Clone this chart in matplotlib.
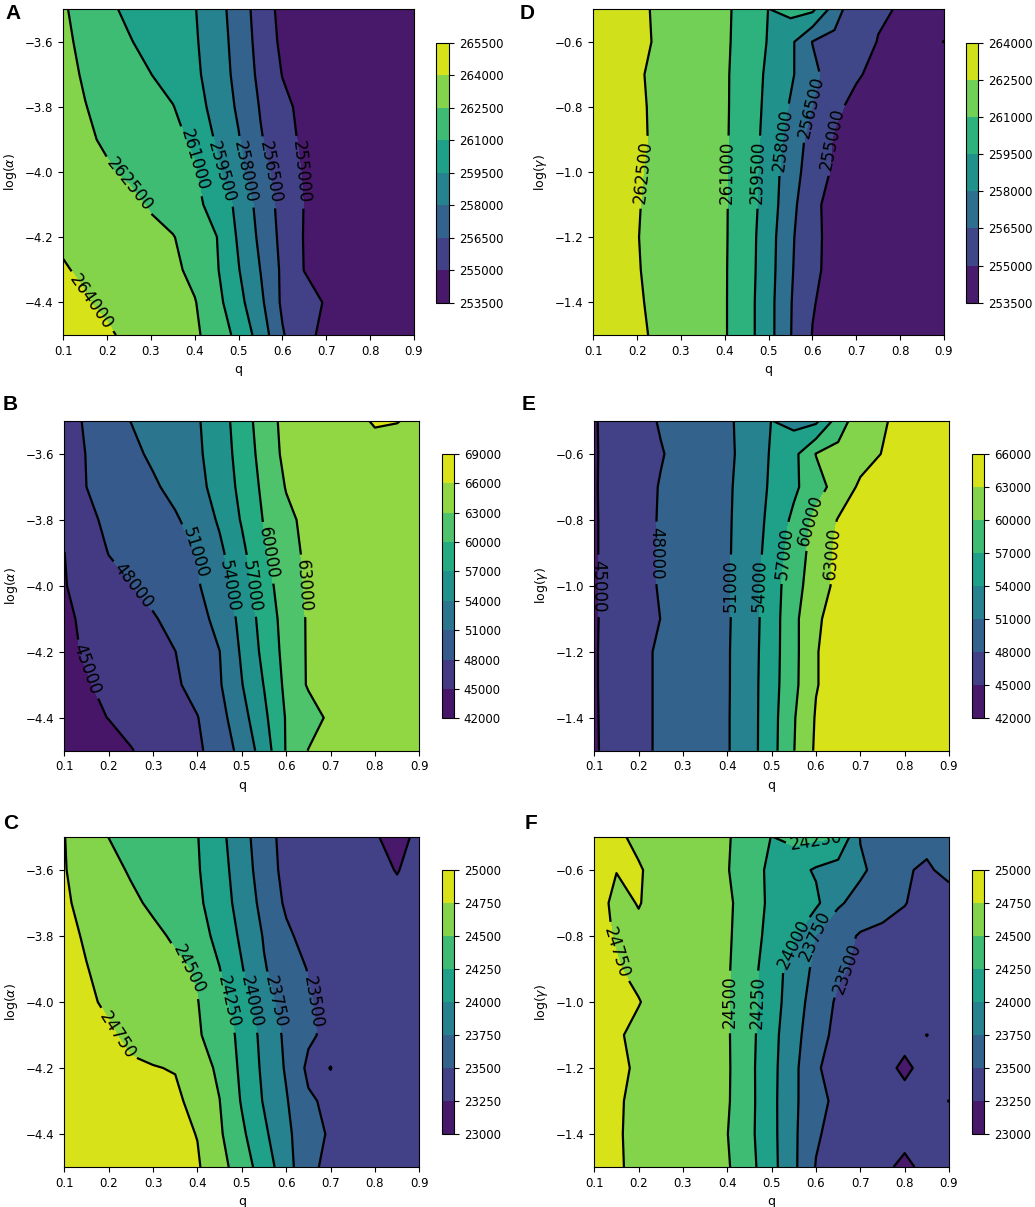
import numpy as np
import matplotlib
matplotlib.use('Agg')
import matplotlib.pyplot as plt

# grid of the parameter sweep
q = [0.10, 0.15, 0.20, 0.25, 0.30, 0.35, 0.40, 0.45, 0.50,
     0.55, 0.60, 0.65, 0.70, 0.75, 0.80, 0.85, 0.90]
log_alpha = [-3.5, -3.6, -3.7, -3.8, -3.9, -4.0, -4.1, -4.2, -4.3, -4.4, -4.5]
log_gamma = [-0.5, -0.6, -0.7, -0.8, -0.9, -1.0, -1.1, -1.2, -1.3, -1.4, -1.5]

# rows go from the top of each panel to the bottom
A_vals = [
    [262650, 261960, 261255, 260745, 260355, 259965, 259560, 258570, 257280, 255840, 254550, 254325, 254175, 254100, 254025, 253950, 253875],
    [262755, 262200, 261645, 261090, 260595, 260130, 259650, 258705, 257400, 255975, 254700, 254400, 254250, 254175, 254100, 254025, 253950],
    [262830, 262380, 261915, 261465, 261015, 260400, 259770, 258810, 257535, 256140, 254955, 254475, 254325, 254250, 254175, 254100, 254025],
    [262905, 262530, 262170, 261810, 261435, 261060, 260100, 258975, 257775, 256395, 255345, 254625, 254400, 254325, 254250, 254175, 254100],
    [263025, 262680, 262335, 261990, 261645, 261300, 260790, 259305, 258090, 256620, 255585, 254700, 254475, 254400, 254325, 254250, 254175],
    [263400, 263010, 262635, 262260, 261885, 261495, 261120, 259755, 258375, 256995, 255840, 254850, 254550, 254475, 254400, 254325, 254250],
    [263775, 263625, 263325, 262875, 262335, 261825, 261315, 260505, 259110, 257445, 255990, 254955, 254625, 254550, 254475, 254400, 254325],
    [263850, 263700, 263475, 263250, 262950, 262575, 261795, 261015, 259305, 257685, 256095, 254925, 254700, 254625, 254550, 254475, 254400],
    [264075, 263850, 263625, 263400, 263100, 262800, 262125, 261135, 259560, 257970, 256230, 254955, 254700, 254625, 254550, 254475, 254400],
    [264375, 264075, 263775, 263475, 263175, 262875, 262575, 261435, 259950, 258315, 256230, 255675, 254850, 254700, 254625, 254550, 254475],
    [264750, 264450, 264150, 263775, 263400, 263100, 262725, 261855, 260565, 258870, 256635, 255240, 254775, 254700, 254625, 254550, 254475],
]
B_vals = [
    [46920, 48300, 49680, 51030, 51930, 52830, 53730, 55680, 58470, 61530, 63900, 64350, 64650, 65100, 66300, 66090, 65400],
    [46920, 48060, 49200, 50370, 51450, 52500, 53550, 55440, 58170, 61140, 63750, 64200, 64500, 64650, 64800, 64800, 64650],
    [47130, 48000, 48870, 49740, 50610, 51780, 53190, 55110, 57780, 60660, 63150, 63900, 64200, 64500, 64650, 64650, 64500],
    [46830, 47580, 48360, 49140, 49890, 50670, 52170, 54390, 57240, 60180, 62340, 63750, 64050, 64350, 64500, 64500, 64350],
    [44970, 46590, 48060, 48810, 49560, 50280, 51090, 53370, 56310, 59610, 61860, 63600, 63900, 64200, 64350, 64350, 64200],
    [44790, 46500, 47220, 47910, 48840, 49770, 50730, 52800, 55650, 58860, 61470, 63450, 63750, 64050, 64200, 64200, 64050],
    [44550, 45450, 46230, 46980, 47760, 48840, 50100, 51810, 54810, 58200, 61140, 63300, 63600, 63900, 64050, 64050, 63900],
    [44520, 45210, 45900, 46590, 47280, 47970, 49440, 50970, 54390, 57750, 60960, 63300, 63450, 63750, 63900, 63900, 63750],
    [44130, 44820, 45540, 46230, 46920, 47640, 48900, 50730, 53880, 57090, 60660, 63300, 63450, 63600, 63750, 63750, 63600],
    [43650, 44340, 45060, 45780, 46500, 47190, 47910, 49980, 52920, 56340, 60210, 61650, 63600, 63750, 63900, 63900, 63750],
    [42750, 43350, 43950, 44880, 45780, 46680, 47550, 49260, 51930, 55350, 60180, 63090, 63450, 63600, 63750, 63750, 63600],
]
C_vals = [
    [24755, 24628, 24498, 24438, 24378, 24318, 24258, 24068, 23843, 23608, 23413, 23375, 23350, 23313, 23275, 23150, 23323],
    [24760, 24663, 24565, 24478, 24410, 24340, 24270, 24098, 23870, 23633, 23425, 23388, 23363, 23350, 23325, 23238, 23350],
    [24775, 24698, 24620, 24543, 24463, 24378, 24293, 24130, 23900, 23678, 23463, 23400, 23375, 23363, 23350, 23325, 23363],
    [24793, 24733, 24670, 24608, 24548, 24470, 24343, 24185, 23955, 23733, 23545, 23413, 23388, 23375, 23363, 23350, 23363],
    [24808, 24755, 24703, 24650, 24598, 24545, 24473, 24255, 24015, 23768, 23628, 23488, 23413, 23388, 23375, 23363, 23363],
    [24830, 24778, 24723, 24670, 24615, 24560, 24508, 24335, 24108, 23840, 23658, 23520, 23425, 23400, 23388, 23375, 23375],
    [24895, 24833, 24773, 24710, 24650, 24588, 24525, 24393, 24185, 23923, 23703, 23538, 23438, 23413, 23400, 23388, 23388],
    [24925, 24875, 24825, 24775, 24760, 24738, 24590, 24463, 24198, 23950, 23725, 23450, 23503, 23425, 23413, 23400, 23400],
    [24950, 24913, 24875, 24850, 24825, 24800, 24663, 24503, 24230, 23980, 23770, 23533, 23450, 23425, 23413, 23400, 23400],
    [24963, 24938, 24900, 24875, 24850, 24813, 24743, 24533, 24295, 24050, 23795, 23620, 23463, 23438, 23425, 23413, 23400],
    [24975, 24950, 24925, 24900, 24863, 24825, 24775, 24588, 24373, 24130, 23858, 23545, 23450, 23438, 23425, 23413, 23400],
]
D_vals = [
    [263475, 263100, 262725, 262335, 261960, 261585, 261210, 260520, 259470, 259950, 259800, 257295, 255300, 255150, 254925, 254775, 254700],
    [263535, 263145, 262755, 262365, 261975, 261585, 261195, 260460, 259395, 258315, 256455, 256050, 255525, 254955, 254775, 254700, 255015],
    [263340, 262980, 262620, 262260, 261885, 261525, 261165, 260355, 259215, 258210, 256950, 255630, 255120, 254700, 254625, 254550, 254625],
    [263415, 263040, 262665, 262290, 261915, 261540, 261165, 260310, 259110, 257865, 256455, 255225, 254700, 254550, 254475, 254400, 254400],
    [263460, 263070, 262680, 262305, 261915, 261525, 261150, 260265, 258990, 257445, 255930, 254895, 254625, 254475, 254400, 254325, 254325],
    [263355, 262980, 262605, 262230, 261855, 261480, 261105, 260175, 258855, 257145, 255795, 254775, 254550, 254400, 254325, 254250, 254250],
    [263280, 262920, 262560, 262200, 261840, 261480, 261120, 260220, 258780, 256995, 255300, 254550, 254400, 254325, 254250, 254175, 254175],
    [263235, 262890, 262530, 262185, 261825, 261465, 261120, 260145, 258645, 256740, 255345, 254550, 254325, 254250, 254175, 254100, 254100],
    [263295, 262935, 262560, 262200, 261840, 261465, 261105, 260115, 258600, 256665, 255300, 254550, 254325, 254250, 254175, 254100, 254100],
    [263385, 263010, 262620, 262245, 261870, 261480, 261105, 260070, 258510, 256575, 255090, 254475, 254250, 254175, 254100, 254100, 254025],
    [263475, 263085, 262695, 262305, 261900, 261510, 261105, 260070, 258510, 256545, 254955, 254400, 254250, 254175, 254100, 254025, 253950],
]
E_vals = [
    [44820, 45990, 47130, 48210, 48990, 49800, 50580, 52020, 54060, 53100, 53400, 58410, 61860, 62700, 63900, 64200, 64350],
    [44820, 45840, 46830, 47850, 48750, 49620, 50490, 51990, 54300, 56190, 60090, 60900, 61950, 63090, 63600, 63750, 63600],
    [44820, 45960, 47070, 48150, 48960, 49800, 50610, 52230, 54450, 56430, 58800, 61230, 63450, 63900, 64050, 64200, 64050],
    [44790, 45960, 47130, 48210, 49020, 49830, 50670, 52350, 54810, 57630, 60810, 63150, 63900, 64200, 64350, 64500, 64350],
    [44790, 45960, 47130, 48210, 49020, 49860, 50700, 52500, 55170, 58350, 61290, 63600, 64200, 64500, 64650, 64650, 64500],
    [44790, 45960, 47130, 48210, 49050, 49890, 50730, 52650, 55500, 58890, 61560, 63750, 64350, 64650, 64800, 64800, 64800],
    [44790, 45870, 46950, 48030, 48930, 49800, 50700, 52650, 55590, 59250, 62550, 64200, 64500, 64800, 64950, 64950, 64950],
    [44790, 46050, 47340, 48390, 49170, 49950, 50760, 52740, 55710, 59160, 62850, 64200, 64650, 64950, 65100, 65100, 65100],
    [44790, 46050, 47340, 48390, 49200, 49980, 50760, 52800, 55800, 59250, 62850, 64200, 64650, 64950, 65100, 65100, 65100],
    [44760, 46020, 47340, 48390, 49200, 49980, 50790, 52800, 55890, 59760, 63240, 64350, 64800, 65100, 65250, 65250, 65250],
    [44730, 46020, 47340, 48390, 49200, 49980, 50790, 52800, 55950, 59910, 63450, 64500, 64950, 65250, 65400, 65400, 65400],
]
F_vals = [
    [24875, 24800, 24688, 24650, 24613, 24575, 24525, 24363, 24245, 24313, 24288, 24263, 23740, 23675, 23625, 23575, 23575],
    [24875, 24758, 24775, 24650, 24613, 24573, 24513, 24350, 24198, 24083, 23973, 23880, 23785, 23670, 23525, 23463, 23575],
    [24888, 24673, 24763, 24650, 24625, 24588, 24550, 24358, 24203, 24110, 24050, 23778, 23675, 23593, 23508, 23425, 23375],
    [24850, 24725, 24688, 24650, 24613, 24575, 24538, 24348, 24175, 24033, 23738, 23605, 23475, 23438, 23425, 23413, 23400],
    [24850, 24775, 24675, 24638, 24600, 24563, 24525, 24338, 24118, 23893, 23695, 23533, 23450, 23425, 23413, 23400, 23388],
    [24875, 24825, 24763, 24638, 24600, 24563, 24520, 24328, 24108, 23868, 23638, 23463, 23425, 23413, 23400, 23388, 23375],
    [24875, 24788, 24675, 24638, 24600, 24563, 24525, 24318, 24083, 23828, 23605, 23425, 23413, 23400, 23388, 23245, 23375],
    [24888, 24825, 24700, 24650, 24613, 24575, 24530, 24310, 24070, 23810, 23528, 23400, 23388, 23388, 23170, 23388, 23375],
    [24875, 24788, 24675, 24638, 24600, 24563, 24525, 24313, 24068, 23795, 23580, 23438, 23400, 23388, 23388, 23375, 23245],
    [24863, 24780, 24675, 24625, 24588, 24550, 24505, 24305, 24070, 23795, 23528, 23413, 23388, 23375, 23388, 23375, 23375],
    [24863, 24788, 24675, 24625, 24588, 24550, 24525, 24328, 24078, 23798, 23488, 23400, 23375, 23350, 23150, 23375, 23363],
]

lev_A = [253500, 255000, 256500, 258000, 259500, 261000, 262500, 264000, 265500]
lev_B = [42000, 45000, 48000, 51000, 54000, 57000, 60000, 63000, 66000, 69000]
lev_C = [23000, 23250, 23500, 23750, 24000, 24250, 24500, 24750, 25000]
lev_D = [253500, 255000, 256500, 258000, 259500, 261000, 262500, 264000]
lev_E = [42000, 45000, 48000, 51000, 54000, 57000, 60000, 63000, 66000]
lev_F = [23000, 23250, 23500, 23750, 24000, 24250, 24500, 24750, 25000]

W, H = 1035, 1207
fig = plt.figure(figsize=(W / 100, H / 100), dpi=100)

def px(left, right, top, bottom):
    return [left / W, 1 - bottom / H, (right - left) / W, (bottom - top) / H]

panels = [
    # letter, y grid, values, levels, ylabel, axes box, colorbar box, letter xy (px)
    ('A', log_alpha, A_vals, lev_A, r'log($\alpha$)', px(63.3, 414, 9.3, 335), px(436, 449, 42.7, 302.7), (5, 19)),
    ('B', log_alpha, B_vals, lev_B, r'log($\alpha$)', px(64.3, 419.3, 421, 750.7), px(441.7, 454, 454, 718.3), (3, 410)),
    ('C', log_alpha, C_vals, lev_C, r'log($\alpha$)', px(64.3, 419.3, 837, 1167), px(441.7, 454, 870, 1134), (3, 829)),
    ('D', log_gamma, D_vals, lev_D, r'log($\gamma$)', px(593.3, 944, 9.3, 335), px(965.7, 978.3, 42.7, 302.7), (520, 19)),
    ('E', log_gamma, E_vals, lev_E, r'log($\gamma$)', px(594.3, 949, 421, 750.7), px(971.7, 984.3, 454, 718.3), (522, 410)),
    ('F', log_gamma, F_vals, lev_F, r'log($\gamma$)', px(594.3, 949, 837, 1167), px(971.7, 984.3, 870, 1134), (525, 829)),
]

for letter, yy, vals, lev, ylab, box, cbox, (lx, ly) in panels:
    ax = fig.add_axes(box)
    Z = np.array(vals, dtype=float)
    cf = ax.contourf(q, yy, Z, levels=lev, cmap='viridis')
    cs = ax.contour(q, yy, Z, levels=lev, colors='k', linewidths=1.6)
    ax.clabel(cs, inline=True, fontsize=12, fmt='%d')
    ax.set_xlim(0.1, 0.9)
    ax.set_ylim(min(yy), max(yy))
    ax.set_xlabel('q', fontsize=9)
    ax.set_ylabel(ylab, fontsize=9)
    ax.tick_params(labelsize=8.5)
    cax = fig.add_axes(cbox)
    cb = fig.colorbar(cf, cax=cax)
    cb.ax.tick_params(labelsize=8.5)
    fig.text(lx / W, 1 - ly / H, letter, fontsize=15, fontweight='bold',
             family=['Liberation Sans', 'DejaVu Sans'], va='baseline', ha='left')

fig.savefig('out.png', dpi=100)
